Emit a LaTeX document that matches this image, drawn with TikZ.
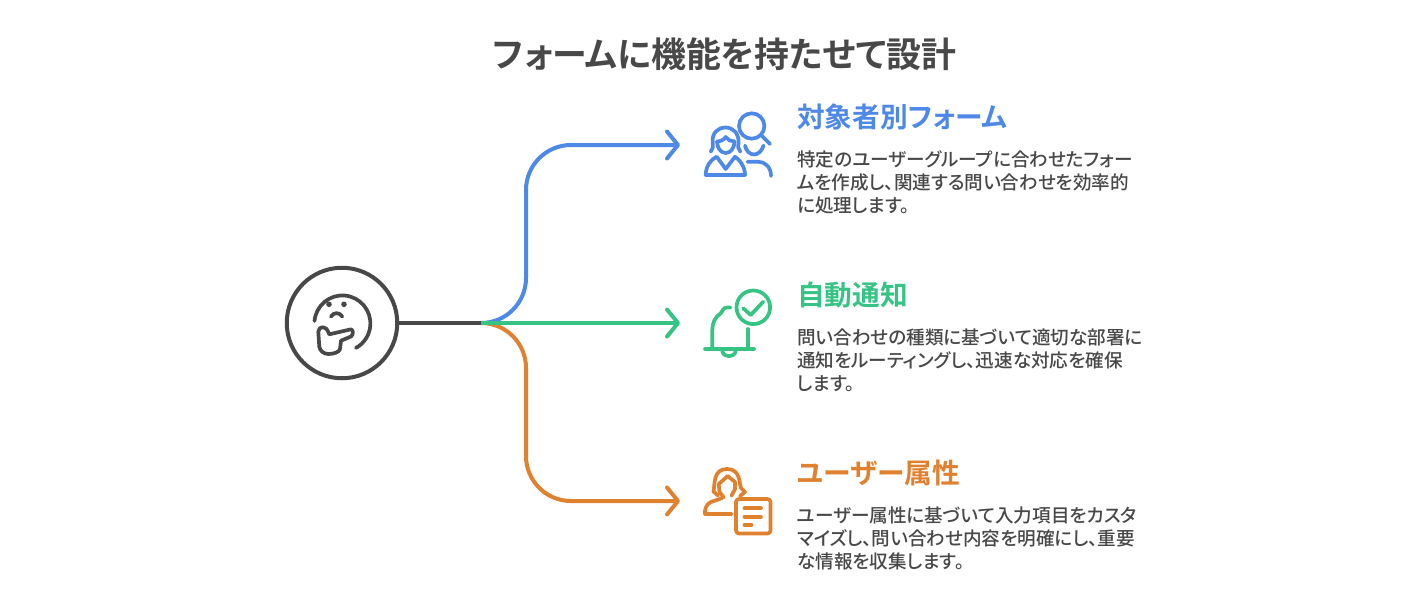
\documentclass[tikz,border=0pt]{standalone}
\usepackage{fontspec}
\usetikzlibrary{arrows.meta}
\setmainfont{Noto Sans CJK JP}[Script=CJK,Language=Japanese,UprightFont=* Medium,BoldFont=* Bold,RawFeature={+palt}]
\definecolor{cblue}{HTML}{4E89E8}
\definecolor{cgreen}{HTML}{36C484}
\definecolor{corange}{HTML}{E0812F}
\definecolor{cdark}{HTML}{484848}
\tikzset{
  link/.style={line width=4pt,line cap=round,line join=round,rounded corners=45pt,-{Straight Barb[length=11pt,width=27pt,line width=4pt,round]}},
  icon/.style={line width=3.7pt,line cap=round,line join=round},
  titletext/.style={inner sep=0pt,text=cdark,font=\fontsize{34.9}{38}\selectfont\bfseries},
  headtext/.style={inner sep=0pt,anchor=west,font=\fontsize{27.7}{30}\selectfont\bfseries},
  bodytext/.style={inner sep=0pt,anchor=north west,align=left,text=cdark,font=\fontsize{18.6}{23}\selectfont},
}
\begin{document}
\begin{tikzpicture}[x=1pt,y=1pt,yscale=-1]
\useasboundingbox[fill=white] (0,0) rectangle (1425,595);
\node[titletext] (title) at (724.5,54) {フォームに機能を持たせて設計};
% hub
\node[circle,draw=cdark,line width=4pt,minimum size=110.5pt,inner sep=0pt] (hubc) at (342,323) {};
\coordinate (hub) at (481,323);
\coordinate (elbowA) at (526,145);
\coordinate (elbowC) at (526,501);
\coordinate (tipA) at (680,145);
\coordinate (tipB) at (680,323);
\coordinate (tipC) at (680,501);
\draw[link,cblue] (hub) -| (elbowA) -- (tipA);
\draw[link,corange] (hub) -| (elbowC) -- (tipC);
\draw[link,cgreen] (hub) -- (tipB);
\draw[line width=4pt,cdark] (hubc) -- (hub);
% thinking face
\begin{scope}[icon,draw=cdark,fill=cdark]
\draw (314.5,321) arc[start angle=185,end angle=421,radius=28pt];
\fill (329,304.3) circle[radius=2.8pt] (344,304.3) circle[radius=2.8pt];
\draw (331,316.5) .. controls (334,312) and (339,312) .. (342.3,316.5);
\draw (351,329.3) -- (329.3,334.3) .. controls (327,329) and (326,327.3) .. (323.3,327.3)
  .. controls (320,327.3) and (318.3,329) .. (318.3,332) -- (319.3,346.7)
  .. controls (320,351) and (324,354) .. (328.3,354) .. controls (334,354) and (339.5,352) .. (340,349)
  -- (341,340.7) -- (351,336.5) .. controls (353.5,334.5) and (353.5,330) .. (351,329.3) -- cycle;
\end{scope}
% blue icon
\begin{scope}[icon,draw=cblue]
\draw (751.7,126) circle[radius=12.7pt];
\draw (761.7,135.7) -- (770,144);
\draw (710.7,151.7) .. controls (713,149) and (713,147) .. (712.7,143)
  .. controls (711.5,133) and (718,127.5) .. (725.5,127.5)
  .. controls (733,127.5) and (739,133) .. (738.5,143)
  .. controls (738,147) and (738,149) .. (740.3,151.7);
\draw (717,141.5) .. controls (720,141.5) and (724,140) .. (725.7,137)
  .. controls (727.5,140) and (731,141.5) .. (734.5,141.5);
\draw (717,141.5) .. controls (717,147.5) and (720.5,153) .. (725.7,153)
  .. controls (731,153) and (734.5,147.5) .. (734.5,141.5);
\draw (705.7,175) -- (745,175) .. controls (745,166) and (739,159.5) .. (735,156.7)
  -- (725.7,169) -- (716.7,156.7) .. controls (711,159.5) and (705.7,166) .. (705.7,175) -- cycle;
\draw (745,145.5) .. controls (746,151) and (750,154.5) .. (754,154.5)
  .. controls (758,154.5) and (762,151) .. (763.5,145.5);
\draw (747.5,161.7) -- (758,161.7) .. controls (765,161.7) and (771,167) .. (771,176);
\end{scope}
% green icon
\begin{scope}[icon,draw=cgreen]
\draw (753.3,307.3) circle[radius=16.8pt];
\draw (743.3,308.3) -- (750.7,315) -- (763.3,301.7);
\draw (730.5,307.5) -- (727,307.5) .. controls (723,307.5) and (723,311) .. (720.5,313.5)
  .. controls (715,317) and (712.3,323) .. (712.3,330) -- (712.3,349);
\draw (747.7,329) -- (747.7,349);
\draw (705,349.3) -- (754,349.3);
\draw (722.3,351) .. controls (723.5,358) and (734.5,358) .. (735.7,351);
\end{scope}
% orange icon
\begin{scope}[icon,draw=corange]
\draw (718,495.5) -- (713.5,491.5) .. controls (715,484) and (713,469) .. (727,469)
  .. controls (741,469) and (739,484) .. (741,488) -- (745,492) -- (740,496);
\draw (718.7,484) -- (727.7,476) -- (735,482) -- (735,489) -- (731.5,495.7);
\draw (718.7,484) -- (719.5,492) -- (723.5,497) -- (721,498.5) -- (711,502)
  .. controls (706,504) and (704.5,510) .. (705,514) -- (731.7,514);
\draw[rounded corners=3pt] (736,499) rectangle (770.5,533.5);
\draw (744.5,508.3) -- (761,508.3);
\draw (744.5,516.7) -- (761,516.7);
\draw (744.5,525) -- (751.5,525);
\end{scope}
% texts
\node[headtext,text=cblue] (h1) at (797,117) {対象者別フォーム};
\node[bodytext] (b1) at (797,150.5) {特定のユーザーグループに合わせたフォー\\ムを作成し、関連する問い合わせを効率的\\に処理します。};
\node[headtext,text=cgreen] (h2) at (797,295) {自動通知};
\node[bodytext] (b2) at (797,328.5) {問い合わせの種類に基づいて適切な部署に\\通知をルーティングし、迅速な対応を確保\\します。};
\node[headtext,text=corange] (h3) at (797,473) {ユーザー属性};
\node[bodytext] (b3) at (797,506.5) {ユーザー属性に基づいて入力項目をカスタ\\マイズし、問い合わせ内容を明確にし、重要\\な情報を収集します。};
\end{tikzpicture}
\end{document}
